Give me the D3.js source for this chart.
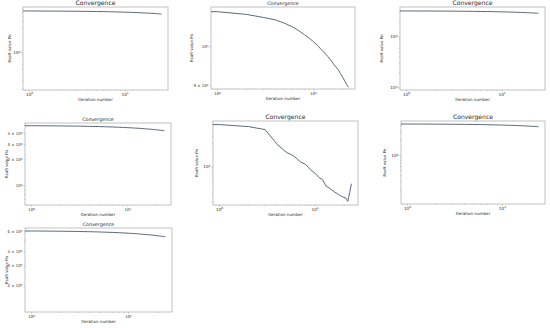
<!DOCTYPE html>
<meta charset="utf-8">
<html>
<head>
<script src="https://d3js.org/d3.v7.min.js"></script>
<style>
  body { margin: 0; background: #fff; }
  text { font-family: "DejaVu Sans", sans-serif; fill: #2a2a2a; }
</style>
</head>
<body>
<div id="my_dataviz"></div>
<script>

// iteration numbers; iteration 0 sits at the clipped left edge of the log axis
var iterations = [0,1,2,3,4,5,6,7,8,9,10,11,12,13,14,15,16,17,18,19,20,21,22,23,24];

// Rsoft value per iteration, one run per panel
var run1 = [64300,64300,63920,63550,63180,62810,62440,62080,61720,61360,61000,60640,60290,59940,59590,59240,58890,58550,58210,57870,57530,57200,56860,56530,56200];
var run2 = [1100,1100,1092,1083,1076,1066,1056,1045,1034,1024,1014,1004,993,984,975,966,956,948,941,931,922,913,904,897];
var run3 = [32400,32400,32250,32110,31960,31820,31670,31530,31390,31250,31100,30960,30820,30690,30550,30410,30270,30140,30000,29870,29730,29600,29460,29330,29200];
var run4 = [49300,49300,49020,48740,48460,48180,47900,47630,47360,47090,46820,46550,46280,46020,45750,45490,45230,44970,44710,44460,44200,43950,43700,43450,43200];
var run5 = [705,705,643,560,284,197,166,127,112,87.5,75.2,61.7,55.7,41.3,38.4,34.7,31.6,29.6,27.5,25.7,24.8,24.0,20.6,30.9,46.3];
var run6 = [4300000,4300000,4277000,4254000,4231000,4208000,4186000,4163000,4141000,4119000,4097000,4075000,4053000,4031000,4010000,3988000,3967000,3946000,3925000,3904000,3883000,3862000,3841000,3821000,3800000];
var run7 = [614000,614000,610900,607800,604700,601600,598500,595500,592400,589400,586400,583400,580400,577500,574500,571600,568700,565800,562900,560000,557200,554300,551500,548700,546000];

// y axis ranges (include the hidden start value) and labelled y ticks
var yDomain1 = [1940, 76700],   yTicks1 = [10000];
var yDomain2 = [893, 1114],     yTicks2 = [900, 1000];
var yDomain3 = [914, 38730],    yTicks3 = [1000, 10000];
var yDomain4 = [6048, 52960],   yTicks4 = [10000, 20000, 30000, 40000];
var yDomain5 = [17.4, 831.8],   yTicks5 = [100];
var yDomain6 = [108100, 4943000], yTicks6 = [1000000];
var yDomain7 = [117800, 652300],  yTicks7 = [200000, 300000, 400000, 600000];

var xTicks = [1, 10];
var titleText = "Convergence";
var xLabelText = "Iteration number";
var yLabelText = "Rsoft value Pn";

// layout of the seven pasted figures
var panels = [
  {y: run1, yd: yDomain1, yt: yTicks1, box: [23, 7, 168, 90],   ylx: 10,  big: true},
  {y: run2, yd: yDomain2, yt: yTicks2, box: [211, 7, 355, 89],  ylx: 192, big: false},
  {y: run3, yd: yDomain3, yt: yTicks3, box: [400, 7, 545, 90],  ylx: 382, big: true},
  {y: run4, yd: yDomain4, yt: yTicks4, box: [25, 123, 171, 205], ylx: 7,  big: false},
  {y: run5, yd: yDomain5, yt: yTicks5, box: [213, 121, 358, 205], ylx: 197, big: true},
  {y: run6, yd: yDomain6, yt: yTicks6, box: [401, 121, 545, 204], ylx: 385, big: true},
  {y: run7, yd: yDomain7, yt: yTicks7, box: [25, 228, 172, 312], ylx: 7,  big: false}
];

var svg = d3.select("#my_dataviz")
  .append("svg")
    .attr("width", 550)
    .attr("height", 328);

// matplotlib style 5% margins in log space
function logMargins(vals) {
  var pos = vals.filter(function(v) { return v > 0; });
  var a = Math.log10(d3.min(pos)), b = Math.log10(d3.max(pos));
  var m = (b - a) * 0.05;
  return [Math.pow(10, a - m), Math.pow(10, b + m)];
}

// writes 10^e or m × 10^e into a text node
function powLabel(t, v) {
  var e = Math.floor(Math.log10(v) + 1e-9);
  var m = Math.round(v / Math.pow(10, e));
  t.append("tspan").text(m === 1 ? "10" : m + " \u00d7 10");
  t.append("tspan").attr("dy", "-0.45em").style("font-size", "70%").text(e);
}

function minorTicks(dom) {
  var out = [];
  var e0 = Math.floor(Math.log10(dom[0])), e1 = Math.ceil(Math.log10(dom[1]));
  for (var e = e0; e <= e1; e++) {
    for (var k = 1; k < 10; k++) {
      var v = k * Math.pow(10, e);
      if (v >= dom[0] && v <= dom[1]) out.push({v: v, major: k === 1});
    }
  }
  return out;
}

panels.forEach(function(p) {
  var x0 = p.box[0], y0 = p.box[1], x1 = p.box[2], y1 = p.box[3];
  var fs = p.big ? 4.2 : 3.9;
  var n = p.y.length;
  var its = iterations.slice(0, n);

  var x = d3.scaleLog().domain(logMargins(its)).range([x0, x1]).clamp(true);
  var y = d3.scaleLog().domain(p.yd).range([y1, y0]);

  var g = svg.append("g");

  // minor + major tick marks
  var tickCol = "#9a9a9a";
  minorTicks(x.domain()).forEach(function(t) {
    g.append("line").attr("x1", x(t.v)).attr("x2", x(t.v))
      .attr("y1", y1).attr("y2", y1 + (t.major ? 1.8 : 1))
      .attr("stroke", tickCol).attr("stroke-width", 0.5);
  });
  minorTicks(p.yd).forEach(function(t) {
    g.append("line").attr("y1", y(t.v)).attr("y2", y(t.v))
      .attr("x1", x0).attr("x2", x0 - (t.major ? 1.8 : 1))
      .attr("stroke", tickCol).attr("stroke-width", 0.5);
  });

  // frame
  g.append("rect")
    .attr("x", x0).attr("y", y0)
    .attr("width", x1 - x0).attr("height", y1 - y0)
    .attr("fill", "none").attr("stroke", "#a8a8a8").attr("stroke-width", 0.7);

  // the convergence curve
  var line = d3.line()
    .x(function(d, i) { return x(its[i]); })
    .y(function(d) { return y(d); });
  g.append("path")
    .datum(p.y)
    .attr("d", line)
    .attr("fill", "none")
    .attr("stroke", "#4b596b")
    .attr("stroke-width", 0.9);

  // tick labels
  xTicks.forEach(function(v) {
    var t = g.append("text")
      .attr("x", x(v)).attr("y", y1 + 5.8)
      .attr("text-anchor", "middle")
      .style("font-size", fs + "px");
    powLabel(t, v);
  });
  p.yt.forEach(function(v) {
    var t = g.append("text")
      .attr("x", x0 - 2.5).attr("y", y(v) + fs * 0.35)
      .attr("text-anchor", "end")
      .style("font-size", fs + "px");
    powLabel(t, v);
  });

  // title and axis labels
  g.append("text")
    .attr("x", (x0 + x1) / 2).attr("y", y0 - 1.8)
    .attr("text-anchor", "middle")
    .style("font-size", (p.big ? 6.1 : 4.8) + "px")
    .text(titleText);
  g.append("text")
    .attr("x", (x0 + x1) / 2).attr("y", y1 + 10.6)
    .attr("text-anchor", "middle")
    .style("font-size", "4.1px")
    .text(xLabelText);
  g.append("text")
    .attr("transform", "translate(" + p.ylx + "," + ((y0 + y1) / 2) + ") rotate(-90)")
    .attr("dy", "0.35em")
    .attr("text-anchor", "middle")
    .style("font-size", "3.9px")
    .text(yLabelText);
});

</script>
</body>
</html>
